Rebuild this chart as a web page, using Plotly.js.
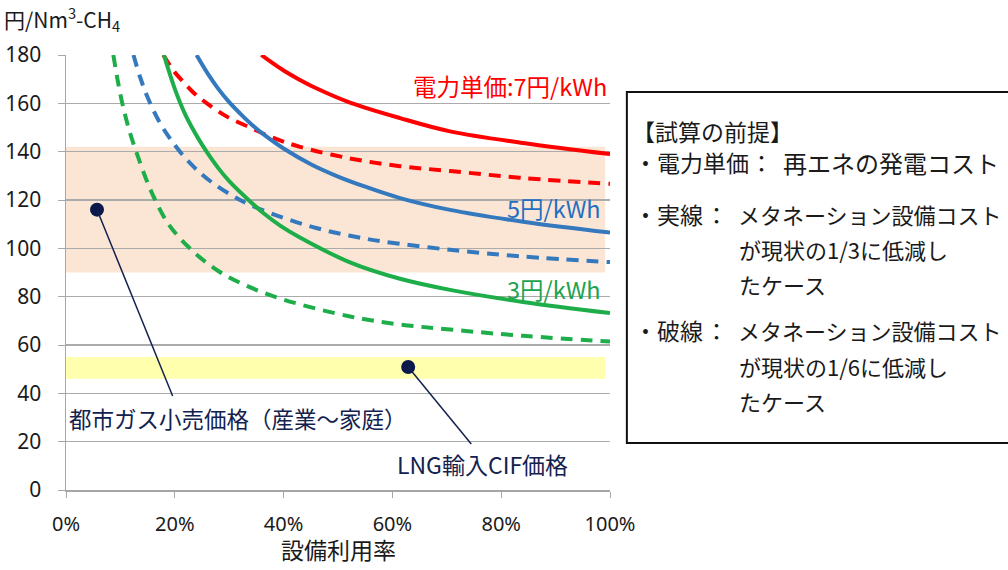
<!DOCTYPE html>
<html>
<head>
<meta charset="utf-8">
<script src="https://cdn.plot.ly/plotly-3.0.1.min.js"></script>
<style>html,body{margin:0;padding:0;background:#fff;}#chart{width:1008px;height:570px;}</style>
</head>
<body>
<div id="chart"></div>
<script>
// Utilisation rate (%) and cost (円/Nm3-CH4)
const red7SolidX  = [35.9, 38.0, 40.0, 43.0, 46.5, 52.2, 61.4, 70.6, 84.0, 100];
const red7SolidY  = [180, 176.6, 173.6, 169.7, 165.7, 160.3, 153.9, 148.4, 143.6, 139.0];
const red7DashX   = [17.9, 19.6, 21.5, 23.5, 25.9, 29.5, 33.8, 38.0, 43.0, 52.2, 61.4, 70.6, 84.0, 100];
const red7DashY   = [180, 174.0, 169.0, 164.3, 160.0, 154.6, 150.0, 145.8, 142.0, 137.2, 134.0, 132.0, 129.1, 126.7];
const blue5SolidX = [24.0, 26.0, 28.0, 30.0, 32.0, 34.0, 37.0, 40.0, 45.0, 50.0, 55.0, 61.4, 70.6, 84.0, 100];
const blue5SolidY = [180, 172.5, 166.0, 160.5, 155.8, 151.5, 146.0, 141.3, 134.8, 129.7, 125.5, 120.8, 115.9, 111.0, 106.5];
const blue5DashX  = [12.4, 13.6, 15.0, 17.0, 19.1, 21.5, 24.0, 27.0, 30.8, 33.8, 40.0, 46.0, 52.0, 58.3, 70.6, 84.0, 100];
const blue5DashY  = [180, 171.0, 162.5, 153.0, 145.5, 138.5, 132.6, 127.0, 121.5, 118.0, 112.6, 108.4, 105.3, 102.8, 99.4, 96.6, 94.3];
const green3SolidX = [18.0, 20.0, 22.0, 24.3, 26.0, 28.0, 30.0, 33.8, 36.5, 39.5, 43.0, 52.2, 61.4, 70.6, 84.0, 100];
const green3SolidY = [180, 166.0, 155.0, 145.5, 139.5, 133.2, 127.8, 119.5, 114.2, 109.2, 104.5, 94.2, 87.4, 82.8, 77.8, 73.2];
const green3DashX = [8.7, 9.5, 10.5, 11.8, 13.1, 14.7, 16.4, 19.0, 23.1, 28.0, 33.2, 40.0, 52.2, 61.0, 70.6, 84.0, 100];
const green3DashY = [180, 169.5, 158.5, 147.5, 138.8, 128.8, 120.0, 109.5, 99.3, 90.6, 84.5, 78.8, 71.8, 68.6, 66.4, 63.8, 61.4];

// Reference price bands (円/Nm3-CH4)
const cityGasBand = [90, 142];   // 都市ガス小売価格
const lngBand     = [46, 55];    // LNG輸入CIF価格

// Callout dots and leader line ends [x %, y]
const calloutDotX = [5.7, 62.9];
const calloutDotY = [116, 50.9];
const calloutEndX = [19.6, 74.5];
const calloutEndY = [38.9, 19.0];

const xTickVals = [0, 20, 40, 60, 80, 100];
const xTickText = ['0%', '20%', '40%', '60%', '80%', '100%'];
const yTickVals = [0, 20, 40, 60, 80, 100, 120, 140, 160, 180];

const RED = '#FF0000', BLUE = '#3479BD', GREEN = '#1DAE4A', NAVY = '#13214F';
const JP = '"Noto Sans CJK JP", "Noto Sans", sans-serif';
const NUM = '"Noto Sans", "DejaVu Sans", sans-serif';

function curve(x, y, color, dashed) {
  return {x: x, y: y, type: 'scatter', mode: 'lines', hoverinfo: 'skip',
    line: {color: color, width: 4, shape: 'spline', smoothing: 1, dash: dashed ? '12px,8px' : 'solid'},
    showlegend: false};
}
const traces = [
  curve(red7SolidX, red7SolidY, RED, false),
  curve(red7DashX, red7DashY, RED, true),
  curve(blue5SolidX, blue5SolidY, BLUE, false),
  curve(blue5DashX, blue5DashY, BLUE, true),
  curve(green3SolidX, green3SolidY, GREEN, false),
  curve(green3DashX, green3DashY, GREEN, true),
  {x: calloutDotX, y: calloutDotY, type: 'scatter', mode: 'markers', hoverinfo: 'skip',
   marker: {color: '#0B1A4B', size: 14}, showlegend: false, cliponaxis: false}
];

const shapes = [
  {type: 'rect', xref: 'x', yref: 'y', x0: 0, x1: 99.1, y0: cityGasBand[0], y1: cityGasBand[1],
   fillcolor: 'rgba(250,224,204,0.8)', line: {width: 0}, layer: 'below'},
  {type: 'rect', xref: 'x', yref: 'y', x0: 0, x1: 99.1, y0: lngBand[0], y1: lngBand[1],
   fillcolor: 'rgba(255,255,160,0.85)', line: {width: 0}, layer: 'below'},
  {type: 'line', xref: 'x', yref: 'y', x0: calloutDotX[0], y0: calloutDotY[0], x1: calloutEndX[0], y1: calloutEndY[0],
   line: {color: NAVY, width: 1.5}},
  {type: 'line', xref: 'x', yref: 'y', x0: calloutDotX[1], y0: calloutDotY[1], x1: calloutEndX[1], y1: calloutEndY[1],
   line: {color: NAVY, width: 1.5}},
  // assumptions box
  {type: 'rect', xref: 'paper', yref: 'paper', x0: 1.031, x1: 1.75, y0: 0.108, y1: 0.915,
   fillcolor: 'rgba(0,0,0,0)', line: {color: '#111', width: 2}}
];

function px2x(px) { return (px - 66) / 544; }
function px2y(py) { return (490 - py) / 435; }
function boxText(text, px, py, anchor, size) {
  return {xref: 'paper', yref: 'paper', x: px2x(px), y: px2y(py), xanchor: anchor || 'left', yanchor: 'middle',
    text: text, showarrow: false, font: {family: JP, size: size || 22, color: '#1A1A1A'}};
}

const annotations = [
  {xref: 'paper', yref: 'paper', x: px2x(2), y: px2y(19), xanchor: 'left', yanchor: 'middle', showarrow: false,
   text: '円/Nm<sup>3</sup>-CH<sub>4</sub>', font: {family: JP, size: 21, color: '#1A1A1A'}},
  {xref: 'paper', yref: 'paper', x: 0.5, y: px2y(549), xanchor: 'center', yanchor: 'middle', showarrow: false,
   text: '設備利用率', font: {family: JP, size: 23, color: '#1A1A1A'}},
  {xref: 'x', yref: 'y', x: 99.8, y: 167.3, xanchor: 'right', yanchor: 'middle', showarrow: false,
   text: '電力単価:7円/kWh', font: {family: JP, size: 23.5, color: RED}},
  {xref: 'x', yref: 'y', x: 98.8, y: 116.8, xanchor: 'right', yanchor: 'middle', showarrow: false,
   text: '5円/kWh', font: {family: JP, size: 23.5, color: '#1F6FC2'}},
  {xref: 'x', yref: 'y', x: 98.8, y: 83.2, xanchor: 'right', yanchor: 'middle', showarrow: false,
   text: '3円/kWh', font: {family: JP, size: 23.5, color: '#20A24E'}},
  {xref: 'x', yref: 'y', x: 0.2, y: 30.0, xanchor: 'left', yanchor: 'middle', showarrow: false,
   text: '都市ガス小売価格（産業～家庭）', font: {family: JP, size: 22.5, color: NAVY}},
  {xref: 'x', yref: 'y', x: 60.5, y: 10.8, xanchor: 'left', yanchor: 'middle', showarrow: false,
   text: 'LNG輸入CIF価格', font: {family: JP, size: 23, color: NAVY}},
  boxText('【試算の前提】', 630, 131, 'left', 23),
  boxText('・電力単価', 632, 162, 'left', 23), boxText('：', 761, 162, 'center', 23),
  boxText('再エネの発電コスト', 781, 162, 'left', 24),
  boxText('・実線', 632, 214, 'left', 23), boxText('：', 716, 214, 'center', 23),
  boxText('メタネーション設備コスト', 736, 214),
  boxText('が現状の1/3に低減し', 737, 249),
  boxText('たケース', 737, 284),
  boxText('・破線', 632, 330, 'left', 23), boxText('：', 716, 330, 'center', 23),
  boxText('メタネーション設備コスト', 736, 330),
  boxText('が現状の1/6に低減し', 737, 366),
  boxText('たケース', 737, 401)
];

const layout = {
  width: 1008, height: 570,
  margin: {l: 66, r: 398, t: 55, b: 80},
  paper_bgcolor: '#FFFFFF', plot_bgcolor: '#FFFFFF',
  showlegend: false,
  xaxis: {range: [0, 100], tickvals: xTickVals, ticktext: xTickText, showgrid: false, zeroline: false,
    showline: true, linecolor: '#A6A6A6', linewidth: 1.5, ticks: 'outside', ticklen: 6, tickcolor: '#A6A6A6',
    ticklabelstandoff: 9, tickfont: {family: NUM, size: 20, color: '#1A1A1A'}, fixedrange: true},
  yaxis: {range: [0, 180], tickvals: yTickVals, showgrid: true, gridcolor: '#ABABAB', gridwidth: 1.5, zeroline: false,
    showline: true, linecolor: '#A6A6A6', linewidth: 1.5, ticks: 'outside', ticklen: 7, tickcolor: '#A6A6A6',
    ticklabelstandoff: 12, tickfont: {family: NUM, size: 21, color: '#1A1A1A'}, fixedrange: true},
  shapes: shapes,
  annotations: annotations
};

Plotly.newPlot('chart', traces, layout, {displayModeBar: false, staticPlot: true});
</script>
</body>
</html>
